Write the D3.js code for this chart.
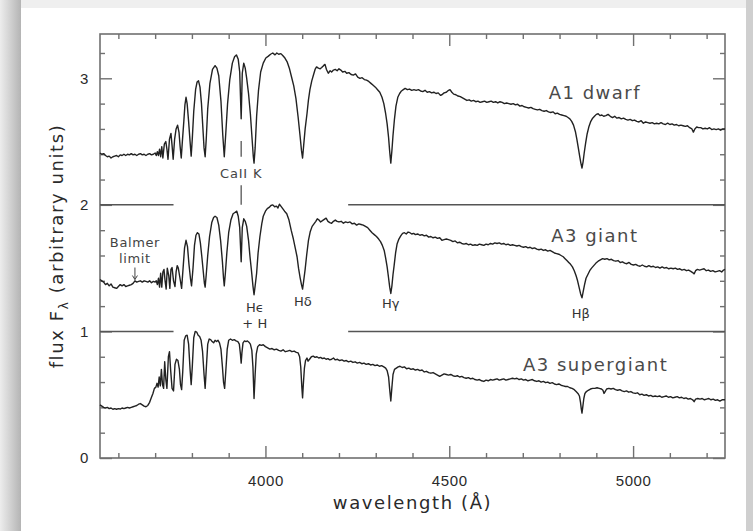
<!DOCTYPE html>
<html>
<head>
<meta charset="utf-8">
<script src="https://cdn.jsdelivr.net/npm/d3@7"></script>
<style>
  html, body { margin: 0; padding: 0; background: #fff; }
  #chart { width: 753px; height: 531px; }
  svg { display: block; font-family: "DejaVu Sans", sans-serif; }
</style>
</head>
<body>
<div id="chart"></div>
<script>
// Spectra of three A-type stars, flux offset so they stack (A1 dwarf top, A3 supergiant bottom)
// values are [wavelength in Angstrom, flux in arbitrary units]

const dwarfA1 = [
  [3550,2.41],[3555,2.40],[3560,2.405],[3565,2.39],[3570,2.38],[3575,2.385],[3580,2.37],[3585,2.38],[3590,2.385],[3595,2.39],
  [3600,2.38],[3605,2.395],[3610,2.39],[3615,2.40],[3620,2.39],[3625,2.40],[3630,2.395],[3635,2.405],[3640,2.395],[3645,2.40],
  [3650,2.39],[3655,2.40],[3660,2.405],[3665,2.395],[3670,2.40],[3675,2.39],[3680,2.40],[3685,2.405],[3690,2.395],[3695,2.40],
  [3700,2.41],[3703,2.39],[3706,2.42],[3709,2.39],[3712,2.44],[3715,2.38],[3718,2.46],[3721,2.37],[3725,2.48],[3729,2.50],
  [3732,2.44],[3735,2.36],[3739,2.52],[3743,2.565],[3746,2.47],[3749,2.36],[3753,2.52],[3757,2.60],[3761,2.63],[3765,2.57],
  [3768,2.46],[3771,2.37],[3774,2.50],[3778,2.66],[3781,2.79],[3784,2.85],[3787,2.80],[3791,2.66],[3795,2.50],[3798,2.385],
  [3801,2.52],[3805,2.74],[3810,2.91],[3814,2.97],[3818,2.98],[3822,2.93],[3826,2.80],[3830,2.60],[3833,2.45],[3836,2.38],
  [3839,2.52],[3843,2.76],[3849,2.96],[3856,3.07],[3863,3.10],[3868,3.08],[3873,3.02],[3879,2.82],[3884,2.55],[3888,2.38],
  [3892,2.56],[3897,2.80],[3903,2.99],[3910,3.12],[3916,3.17],[3921,3.185],[3926,3.15],[3930,3.05],[3934,2.68],[3937,3.04],
  [3941,3.12],[3945,3.08],[3949,3.00],[3954,2.88],[3959,2.72],[3963,2.55],[3967,2.38],[3969,2.33],[3972,2.45],[3976,2.70],
  [3981,2.90],[3987,3.05],[3994,3.12],[4001,3.16],[4008,3.175],[4014,3.19],[4020,3.20],[4026,3.185],[4031,3.20],[4036,3.19],
  [4042,3.195],[4047,3.18],[4053,3.16],[4059,3.13],[4065,3.08],[4071,3.01],[4077,2.94],[4083,2.84],[4089,2.69],[4094,2.55],
  [4098,2.43],[4101,2.37],[4104,2.47],[4108,2.60],[4113,2.72],[4117,2.83],[4121,2.91],[4126,2.98],[4131,3.03],[4135,3.07],
  [4139,3.09],[4144,3.08],[4149,3.075],[4153,3.085],[4158,3.10],[4162,3.11],[4166,3.07],[4171,3.04],[4176,3.06],[4180,3.05],
  [4185,3.065],[4190,3.07],[4195,3.06],[4200,3.075],[4205,3.065],[4210,3.05],[4216,3.055],[4221,3.04],[4227,3.045],[4233,3.03],
  [4239,3.025],[4245,3.035],[4251,3.01],[4257,3.00],[4263,3.005],[4269,2.99],[4275,2.985],[4281,2.975],[4287,2.96],[4293,2.945],
  [4299,2.93],[4305,2.91],[4311,2.89],[4317,2.85],[4322,2.80],[4327,2.72],[4331,2.64],[4335,2.53],[4338,2.42],[4341,2.33],
  [4344,2.43],[4347,2.55],[4351,2.68],[4355,2.78],[4360,2.85],[4365,2.88],[4370,2.90],[4375,2.91],[4380,2.92],[4386,2.91],
  [4392,2.915],[4398,2.905],[4404,2.91],[4410,2.905],[4416,2.91],[4422,2.90],[4428,2.895],[4434,2.905],[4440,2.89],[4446,2.895],
  [4452,2.885],[4458,2.89],[4464,2.88],[4470,2.885],[4476,2.865],[4480,2.87],[4486,2.885],[4492,2.89],[4498,2.905],[4502,2.91],
  [4507,2.89],[4512,2.875],[4518,2.87],[4524,2.86],[4530,2.855],[4536,2.845],[4542,2.835],[4548,2.825],[4554,2.83],[4560,2.82],
  [4566,2.825],[4572,2.815],[4578,2.82],[4584,2.81],[4590,2.815],[4596,2.82],[4602,2.81],[4608,2.815],[4614,2.82],[4620,2.81],
  [4626,2.815],[4632,2.805],[4638,2.815],[4644,2.81],[4650,2.80],[4656,2.805],[4662,2.80],[4668,2.795],[4674,2.80],[4680,2.79],
  [4686,2.795],[4692,2.78],[4698,2.785],[4704,2.775],[4710,2.77],[4716,2.765],[4722,2.77],[4728,2.76],[4734,2.755],[4740,2.75],
  [4746,2.755],[4752,2.745],[4758,2.74],[4764,2.745],[4770,2.735],[4776,2.73],[4782,2.735],[4788,2.72],[4794,2.725],[4800,2.715],
  [4806,2.71],[4812,2.705],[4818,2.70],[4823,2.69],[4828,2.68],[4833,2.66],[4838,2.63],[4843,2.58],[4847,2.52],[4851,2.45],
  [4855,2.38],[4858,2.33],[4861,2.29],[4864,2.34],[4867,2.41],[4871,2.49],[4875,2.56],[4880,2.62],[4885,2.66],[4890,2.685],
  [4895,2.70],[4900,2.715],[4905,2.72],[4910,2.705],[4915,2.71],[4920,2.70],[4926,2.705],[4932,2.715],[4938,2.70],[4944,2.69],
  [4950,2.70],[4956,2.685],[4962,2.69],[4968,2.68],[4974,2.685],[4980,2.675],[4986,2.67],[4992,2.675],[4998,2.665],[5004,2.67],
  [5010,2.66],[5016,2.655],[5022,2.665],[5028,2.645],[5034,2.655],[5040,2.65],[5046,2.645],[5052,2.65],[5058,2.64],[5064,2.645],
  [5070,2.64],[5076,2.65],[5082,2.64],[5088,2.635],[5094,2.645],[5100,2.635],[5106,2.64],[5112,2.63],[5118,2.635],[5124,2.625],
  [5130,2.63],[5136,2.625],[5142,2.62],[5148,2.625],[5154,2.61],[5160,2.60],[5164,2.575],[5168,2.60],[5173,2.615],[5178,2.61],
  [5184,2.61],[5190,2.60],[5196,2.605],[5202,2.60],[5208,2.61],[5214,2.595],[5220,2.60],[5226,2.595],[5232,2.60],[5238,2.59],
  [5244,2.60],[5250,2.60]
];

const giantA3 = [
  [3550,1.41],[3555,1.40],[3560,1.39],[3565,1.37],[3570,1.38],[3575,1.36],[3580,1.375],[3585,1.35],[3590,1.345],[3595,1.34],
  [3600,1.355],[3605,1.37],[3610,1.36],[3615,1.37],[3620,1.355],[3625,1.36],[3630,1.365],[3635,1.37],[3640,1.38],[3645,1.40],
  [3650,1.39],[3655,1.395],[3660,1.40],[3665,1.39],[3670,1.40],[3675,1.395],[3680,1.39],[3685,1.40],[3690,1.385],[3695,1.395],
  [3700,1.39],[3703,1.40],[3706,1.37],[3709,1.42],[3712,1.35],[3715,1.46],[3718,1.35],[3721,1.47],[3724,1.49],[3727,1.40],
  [3730,1.335],[3733,1.50],[3737,1.44],[3740,1.34],[3743,1.49],[3746,1.505],[3750,1.40],[3754,1.355],[3757,1.47],[3760,1.52],
  [3763,1.50],[3767,1.43],[3772,1.34],[3776,1.50],[3780,1.66],[3784,1.72],[3788,1.67],[3792,1.53],[3796,1.42],[3799,1.36],
  [3803,1.50],[3807,1.68],[3811,1.76],[3815,1.78],[3819,1.77],[3823,1.70],[3827,1.59],[3831,1.47],[3834,1.38],[3836,1.35],
  [3839,1.45],[3843,1.60],[3848,1.75],[3854,1.86],[3859,1.90],[3863,1.91],[3868,1.90],[3873,1.84],[3878,1.72],[3883,1.55],
  [3886,1.42],[3888,1.36],[3891,1.46],[3895,1.62],[3900,1.78],[3906,1.88],[3912,1.93],[3917,1.94],[3922,1.95],[3926,1.91],
  [3930,1.82],[3934,1.55],[3937,1.82],[3941,1.89],[3945,1.87],[3949,1.83],[3954,1.72],[3958,1.59],[3962,1.48],[3966,1.36],
  [3969,1.29],[3972,1.36],[3976,1.46],[3980,1.62],[3985,1.75],[3990,1.85],[3994,1.91],[4000,1.95],[4005,1.97],[4010,1.98],
  [4015,1.995],[4020,2.00],[4025,1.985],[4030,1.99],[4034,1.975],[4038,2.005],[4042,1.99],[4047,1.97],[4052,1.95],[4058,1.93],
  [4064,1.88],[4070,1.80],[4076,1.73],[4081,1.66],[4086,1.59],[4090,1.50],[4094,1.43],[4098,1.37],[4101,1.335],[4104,1.40],
  [4108,1.49],[4112,1.60],[4117,1.72],[4122,1.79],[4127,1.83],[4132,1.85],[4137,1.87],[4141,1.89],[4146,1.88],[4150,1.865],
  [4155,1.875],[4160,1.885],[4165,1.895],[4170,1.87],[4175,1.86],[4180,1.855],[4185,1.87],[4190,1.88],[4195,1.87],[4200,1.865],
  [4206,1.87],[4212,1.855],[4218,1.865],[4224,1.86],[4230,1.865],[4236,1.85],[4242,1.855],[4248,1.84],[4254,1.85],[4260,1.845],
  [4266,1.84],[4272,1.83],[4278,1.82],[4284,1.80],[4290,1.78],[4296,1.765],[4302,1.75],[4308,1.73],[4313,1.71],[4318,1.68],
  [4323,1.64],[4327,1.58],[4331,1.51],[4335,1.42],[4338,1.35],[4341,1.30],[4344,1.36],[4347,1.45],[4350,1.52],[4354,1.62],
  [4358,1.69],[4363,1.73],[4368,1.755],[4373,1.775],[4378,1.78],[4383,1.77],[4388,1.785],[4393,1.78],[4398,1.77],[4403,1.775],
  [4408,1.765],[4414,1.77],[4420,1.76],[4426,1.765],[4432,1.755],[4438,1.76],[4444,1.745],[4450,1.75],[4456,1.74],[4462,1.745],
  [4468,1.735],[4474,1.74],[4480,1.72],[4486,1.725],[4492,1.73],[4498,1.725],[4504,1.72],[4510,1.71],[4516,1.715],[4522,1.70],
  [4528,1.705],[4534,1.695],[4540,1.69],[4546,1.695],[4552,1.685],[4558,1.69],[4564,1.68],[4570,1.685],[4576,1.68],[4582,1.69],
  [4588,1.685],[4594,1.68],[4600,1.69],[4606,1.685],[4612,1.695],[4618,1.69],[4624,1.70],[4630,1.695],[4636,1.70],[4642,1.69],
  [4648,1.695],[4654,1.685],[4660,1.69],[4666,1.68],[4672,1.685],[4678,1.68],[4684,1.675],[4690,1.68],[4696,1.67],[4702,1.665],
  [4708,1.67],[4714,1.66],[4720,1.665],[4726,1.655],[4732,1.66],[4738,1.65],[4744,1.645],[4750,1.65],[4756,1.64],[4762,1.645],
  [4768,1.635],[4774,1.64],[4780,1.63],[4786,1.62],[4792,1.615],[4798,1.61],[4804,1.60],[4810,1.59],[4815,1.575],[4820,1.56],
  [4825,1.545],[4830,1.53],[4835,1.51],[4840,1.48],[4845,1.44],[4849,1.40],[4853,1.35],[4857,1.30],[4861,1.265],[4864,1.31],
  [4868,1.37],[4872,1.42],[4877,1.45],[4882,1.48],[4887,1.50],[4893,1.52],[4899,1.54],[4905,1.555],[4911,1.565],[4917,1.575],
  [4923,1.57],[4929,1.575],[4935,1.565],[4941,1.57],[4947,1.56],[4953,1.555],[4959,1.56],[4965,1.545],[4971,1.55],[4977,1.54],
  [4983,1.535],[4989,1.545],[4995,1.53],[5001,1.525],[5007,1.53],[5013,1.52],[5019,1.515],[5025,1.525],[5031,1.515],[5037,1.51],
  [5043,1.52],[5049,1.51],[5055,1.515],[5061,1.505],[5067,1.51],[5073,1.50],[5079,1.51],[5085,1.50],[5091,1.505],[5097,1.495],
  [5103,1.50],[5109,1.495],[5115,1.50],[5121,1.49],[5127,1.495],[5133,1.485],[5139,1.49],[5145,1.48],[5151,1.485],[5157,1.475],
  [5162,1.465],[5166,1.455],[5170,1.48],[5175,1.49],[5181,1.485],[5187,1.49],[5193,1.495],[5199,1.48],[5205,1.485],[5211,1.475],
  [5217,1.48],[5223,1.47],[5229,1.475],[5235,1.48],[5241,1.47],[5246,1.485],[5250,1.49]
];

const supergiantA3 = [
  [3550,0.42],[3555,0.41],[3560,0.40],[3565,0.395],[3570,0.40],[3575,0.39],[3580,0.395],[3585,0.385],[3590,0.39],[3595,0.385],
  [3600,0.39],[3605,0.387],[3610,0.395],[3615,0.39],[3620,0.395],[3625,0.40],[3630,0.395],[3635,0.40],[3640,0.405],[3645,0.41],
  [3650,0.415],[3655,0.425],[3660,0.43],[3665,0.42],[3670,0.41],[3675,0.405],[3680,0.415],[3685,0.44],[3690,0.48],[3694,0.51],
  [3698,0.55],[3702,0.56],[3705,0.59],[3708,0.56],[3711,0.64],[3714,0.57],[3717,0.70],[3720,0.58],[3723,0.55],[3726,0.76],
  [3729,0.62],[3732,0.55],[3736,0.80],[3739,0.84],[3742,0.70],[3746,0.55],[3750,0.53],[3754,0.74],[3758,0.78],[3762,0.77],
  [3766,0.70],[3769,0.58],[3772,0.54],[3775,0.68],[3779,0.93],[3783,0.965],[3787,0.97],[3791,0.90],[3795,0.70],[3798,0.58],
  [3801,0.72],[3805,0.95],[3809,1.00],[3813,0.995],[3817,0.97],[3821,0.96],[3825,0.93],[3829,0.84],[3833,0.66],[3836,0.55],
  [3839,0.70],[3843,0.90],[3847,0.94],[3851,0.935],[3855,0.92],[3859,0.91],[3863,0.93],[3867,0.92],[3871,0.93],[3875,0.91],
  [3879,0.86],[3883,0.72],[3886,0.60],[3889,0.55],[3892,0.68],[3896,0.86],[3900,0.93],[3905,0.94],[3910,0.93],[3915,0.935],
  [3920,0.925],[3925,0.92],[3929,0.90],[3932,0.82],[3934,0.75],[3936,0.83],[3939,0.91],[3943,0.925],[3947,0.92],[3951,0.925],
  [3955,0.915],[3959,0.90],[3963,0.85],[3966,0.72],[3969,0.47],[3972,0.66],[3975,0.82],[3979,0.88],[3984,0.895],[3989,0.89],
  [3994,0.895],[4000,0.88],[4006,0.87],[4012,0.86],[4018,0.865],[4024,0.855],[4030,0.86],[4036,0.85],[4042,0.845],[4048,0.855],
  [4054,0.84],[4060,0.845],[4066,0.85],[4072,0.84],[4078,0.845],[4084,0.835],[4089,0.83],[4093,0.80],[4096,0.72],[4099,0.56],
  [4101,0.475],[4103,0.58],[4106,0.71],[4109,0.77],[4113,0.79],[4116,0.765],[4120,0.78],[4125,0.80],[4130,0.805],[4135,0.795],
  [4140,0.80],[4145,0.79],[4150,0.795],[4155,0.785],[4160,0.79],[4165,0.78],[4170,0.785],[4175,0.775],[4180,0.78],[4185,0.79],
  [4190,0.775],[4196,0.78],[4202,0.77],[4208,0.775],[4214,0.765],[4220,0.77],[4226,0.76],[4232,0.765],[4238,0.755],[4244,0.76],
  [4250,0.75],[4256,0.755],[4262,0.745],[4268,0.75],[4274,0.74],[4280,0.745],[4286,0.735],[4292,0.74],[4298,0.73],[4304,0.735],
  [4310,0.725],[4316,0.73],[4322,0.72],[4327,0.71],[4331,0.69],[4335,0.64],[4338,0.54],[4341,0.45],[4344,0.56],[4347,0.66],
  [4351,0.70],[4356,0.71],[4361,0.72],[4366,0.725],[4372,0.715],[4378,0.72],[4384,0.705],[4390,0.71],[4396,0.70],[4402,0.705],
  [4408,0.695],[4414,0.70],[4420,0.69],[4426,0.695],[4432,0.68],[4438,0.685],[4444,0.675],[4450,0.67],[4456,0.675],[4462,0.665],
  [4468,0.655],[4474,0.645],[4480,0.655],[4486,0.665],[4492,0.66],[4498,0.655],[4504,0.66],[4510,0.65],[4516,0.645],[4522,0.65],
  [4528,0.64],[4534,0.645],[4540,0.635],[4546,0.63],[4552,0.635],[4558,0.625],[4564,0.63],[4570,0.62],[4576,0.615],[4582,0.62],
  [4588,0.61],[4594,0.605],[4600,0.615],[4606,0.61],[4612,0.62],[4618,0.615],[4624,0.62],[4630,0.625],[4636,0.615],[4642,0.62],
  [4648,0.625],[4654,0.615],[4660,0.62],[4666,0.625],[4672,0.63],[4678,0.625],[4684,0.63],[4690,0.62],[4696,0.625],[4702,0.615],
  [4708,0.62],[4714,0.61],[4720,0.615],[4726,0.62],[4732,0.61],[4738,0.605],[4744,0.61],[4750,0.60],[4756,0.605],[4762,0.595],
  [4768,0.60],[4774,0.59],[4780,0.595],[4786,0.585],[4792,0.58],[4798,0.585],[4804,0.575],[4810,0.57],[4816,0.565],[4822,0.565],
  [4828,0.555],[4834,0.55],[4840,0.54],[4845,0.525],[4850,0.51],[4854,0.49],[4857,0.44],[4859,0.39],[4861,0.355],[4863,0.40],
  [4866,0.47],[4869,0.51],[4873,0.525],[4878,0.535],[4884,0.545],[4890,0.55],[4896,0.55],[4902,0.555],[4908,0.55],[4914,0.545],
  [4918,0.535],[4921,0.51],[4924,0.525],[4928,0.545],[4934,0.55],[4940,0.545],[4946,0.55],[4952,0.54],[4958,0.535],[4964,0.54],
  [4970,0.53],[4976,0.525],[4982,0.53],[4988,0.52],[4994,0.525],[5000,0.515],[5006,0.51],[5012,0.515],[5018,0.50],[5024,0.505],
  [5030,0.495],[5036,0.50],[5042,0.49],[5048,0.495],[5054,0.485],[5060,0.49],[5066,0.485],[5072,0.49],[5078,0.48],[5084,0.485],
  [5090,0.49],[5096,0.48],[5102,0.485],[5108,0.475],[5114,0.48],[5120,0.485],[5126,0.475],[5132,0.48],[5138,0.47],[5144,0.475],
  [5150,0.465],[5156,0.47],[5162,0.46],[5166,0.445],[5170,0.465],[5176,0.47],[5182,0.465],[5188,0.47],[5194,0.46],[5200,0.465],
  [5206,0.47],[5212,0.46],[5218,0.465],[5224,0.455],[5230,0.46],[5236,0.45],[5242,0.46],[5250,0.46]
];

// star labels: [text, wavelength of centre, flux of baseline]
const starLabels = [
  ['A1  dwarf', 4896, 2.836],
  ['A3  giant', 4896, 1.71],
  ['A3  supergiant', 4898, 0.684]
];

// line identifications under the A3 giant
const lineLabels = [
  ['H\u03f5', 3971, 1.157],
  ['+  H', 3971, 1.028],
  ['H\u03b4', 4102, 1.197],
  ['H\u03b3', 4341, 1.186],
  ['H\u03b2', 4858, 1.107]
];

// horizontal separators between the spectra, broken where the labels sit
const separatorLevels = [1, 2];
const separatorSpans = [[3550, 3750], [4225, 5250]];

// CaII K marker (two dashes) and Balmer limit arrow
const caKWavelength = 3934;
const caKDashes = [[2.38, 2.505], [2.0, 2.155]];
const caKLabel = ['CaII  K', 3934, 2.21];
const balmerWavelength = 3645;
const balmerText = [['Balmer', 1.67], ['limit', 1.54]];
const balmerArrow = [1.505, 1.41];

const xDomain = [3550, 5250];
const yDomain = [0, 3.35];
const xMajor = [4000, 4500, 5000];
const xMinor = [3600, 3700, 3800, 3900, 4100, 4200, 4300, 4400, 4600, 4700, 4800, 4900, 5100, 5200];
const yMajor = [0, 1, 2, 3];
const yMinor = [0.2, 0.4, 0.6, 0.8, 1.2, 1.4, 1.6, 1.8, 2.2, 2.4, 2.6, 2.8, 3.2];

const W = 753, H = 531;
const margin = { top: 34, right: 28, bottom: 73, left: 100 };
const innerW = W - margin.left - margin.right;
const innerH = H - margin.top - margin.bottom;

const svg = d3.select('#chart').append('svg')
  .attr('width', W)
  .attr('height', H);

// page card with a soft shadow at the left, top and right
const defs = svg.append('defs');
const shade = defs.append('linearGradient').attr('id', 'left-shade')
  .attr('x1', '0%').attr('x2', '100%').attr('y1', '0%').attr('y2', '0%');
shade.append('stop').attr('offset', '0%').attr('stop-color', '#ededed');
shade.append('stop').attr('offset', '100%').attr('stop-color', '#b4b4b4');

svg.append('rect').attr('width', W).attr('height', H).attr('fill', '#efefef');
svg.append('rect').attr('x', 0).attr('y', 0).attr('width', 21).attr('height', H).attr('fill', 'url(#left-shade)');
svg.append('rect').attr('x', 746).attr('y', 0).attr('width', 7).attr('height', H).attr('fill', '#cfcfcf');
svg.append('rect').attr('x', 21).attr('y', 8).attr('width', 725).attr('height', H - 8).attr('fill', '#ffffff');

const g = svg.append('g').attr('transform', `translate(${margin.left},${margin.top})`);

const x = d3.scaleLinear().domain(xDomain).range([0, innerW]);
const y = d3.scaleLinear().domain(yDomain).range([innerH, 0]);

const axisColor = '#707070';
const textColor = '#2a2a2a';

// axes: ticks point inward on all four sides
function styleAxis(sel) {
  sel.select('.domain').remove();
  sel.selectAll('.tick line').attr('stroke', axisColor).attr('stroke-width', 1.4);
  sel.selectAll('.tick text').attr('fill', textColor).style('font-size', '15px').style('letter-spacing', '0.6px');
}

g.append('g').attr('transform', `translate(0,${innerH})`)
  .call(d3.axisBottom(x).tickValues(xMajor).tickSize(-12).tickPadding(17).tickFormat(d3.format('d')))
  .call(styleAxis);
g.append('g').attr('transform', `translate(0,${innerH})`)
  .call(d3.axisBottom(x).tickValues(xMinor).tickSize(-5).tickFormat(''))
  .call(styleAxis);
g.append('g')
  .call(d3.axisTop(x).tickValues(xMajor).tickSize(-12).tickFormat(''))
  .call(styleAxis);
g.append('g')
  .call(d3.axisTop(x).tickValues(xMinor).tickSize(-5).tickFormat(''))
  .call(styleAxis);
g.append('g')
  .call(d3.axisLeft(y).tickValues(yMajor).tickSize(-12).tickPadding(11).tickFormat(d3.format('d')))
  .call(styleAxis);
g.append('g')
  .call(d3.axisLeft(y).tickValues(yMinor).tickSize(-5).tickFormat(''))
  .call(styleAxis);
g.append('g').attr('transform', `translate(${innerW},0)`)
  .call(d3.axisRight(y).tickValues(yMajor).tickSize(-12).tickFormat(''))
  .call(styleAxis);
g.append('g').attr('transform', `translate(${innerW},0)`)
  .call(d3.axisRight(y).tickValues(yMinor).tickSize(-5).tickFormat(''))
  .call(styleAxis);

// frame
g.append('rect')
  .attr('width', innerW).attr('height', innerH)
  .attr('fill', 'none').attr('stroke', axisColor).attr('stroke-width', 1.6);

// separators
separatorLevels.forEach(lev => {
  separatorSpans.forEach(sp => {
    g.append('line')
      .attr('x1', x(sp[0])).attr('x2', x(sp[1]))
      .attr('y1', y(lev)).attr('y2', y(lev))
      .attr('stroke', '#555').attr('stroke-width', 1.5);
  });
});

// spectra
const line = d3.line().x(d => x(d[0])).y(d => y(d[1]));
[dwarfA1, giantA3, supergiantA3].forEach(spec => {
  g.append('path')
    .datum(spec)
    .attr('d', line)
    .attr('fill', 'none')
    .attr('stroke', '#222')
    .attr('stroke-width', 1.4)
    .attr('stroke-linejoin', 'round');
});

// CaII K marker
caKDashes.forEach(dsh => {
  g.append('line')
    .attr('x1', x(caKWavelength)).attr('x2', x(caKWavelength))
    .attr('y1', y(dsh[0])).attr('y2', y(dsh[1]))
    .attr('stroke', '#555').attr('stroke-width', 1.3);
});
g.append('text')
  .attr('x', x(caKLabel[1])).attr('y', y(caKLabel[2]))
  .attr('text-anchor', 'middle')
  .attr('fill', '#444')
  .style('font-size', '13px')
  .style('letter-spacing', '0.8px')
  .text(caKLabel[0]);

// Balmer limit
g.selectAll('text.balmer')
  .data(balmerText)
  .join('text')
  .attr('class', 'balmer')
  .attr('x', x(balmerWavelength))
  .attr('y', d => y(d[1]))
  .attr('text-anchor', 'middle')
  .attr('fill', '#444')
  .style('font-size', '13px')
  .style('letter-spacing', '0.6px')
  .text(d => d[0]);
g.append('line')
  .attr('x1', x(balmerWavelength)).attr('x2', x(balmerWavelength))
  .attr('y1', y(balmerArrow[0])).attr('y2', y(balmerArrow[1]))
  .attr('stroke', '#444').attr('stroke-width', 1);
g.append('path')
  .attr('d', `M${x(balmerWavelength) - 2.5},${y(balmerArrow[1]) - 4} L${x(balmerWavelength)},${y(balmerArrow[1])} L${x(balmerWavelength) + 2.5},${y(balmerArrow[1]) - 4}`)
  .attr('fill', 'none').attr('stroke', '#444').attr('stroke-width', 1);

// line identifications
g.selectAll('text.lineid')
  .data(lineLabels)
  .join('text')
  .attr('class', 'lineid')
  .attr('x', d => x(d[1]))
  .attr('y', d => y(d[2]))
  .attr('text-anchor', 'middle')
  .attr('fill', '#333')
  .style('font-size', '13px')
  .text(d => d[0]);

// star names
g.selectAll('text.star')
  .data(starLabels)
  .join('text')
  .attr('class', 'star')
  .attr('x', d => x(d[1]))
  .attr('y', d => y(d[2]))
  .attr('text-anchor', 'middle')
  .attr('fill', '#4a4a4a')
  .style('font-size', '18px')
  .style('letter-spacing', '1.5px')
  .text(d => d[0]);

// axis titles
svg.append('text')
  .attr('x', margin.left + innerW / 2)
  .attr('y', 509)
  .attr('text-anchor', 'middle')
  .attr('fill', textColor)
  .style('font-size', '18px')
  .style('letter-spacing', '1.6px')
  .text('wavelength (\u00c5)');

const yTitle = svg.append('text')
  .attr('transform', `translate(63,${margin.top + innerH / 2}) rotate(-90)`)
  .attr('text-anchor', 'middle')
  .attr('fill', textColor)
  .style('font-size', '18px')
  .style('letter-spacing', '1.6px');
yTitle.append('tspan').text('flux F');
yTitle.append('tspan').attr('dy', 5).style('font-size', '12px').text('\u03bb');
yTitle.append('tspan').attr('dy', -5).text(' (arbitrary units)');
</script>
</body>
</html>
